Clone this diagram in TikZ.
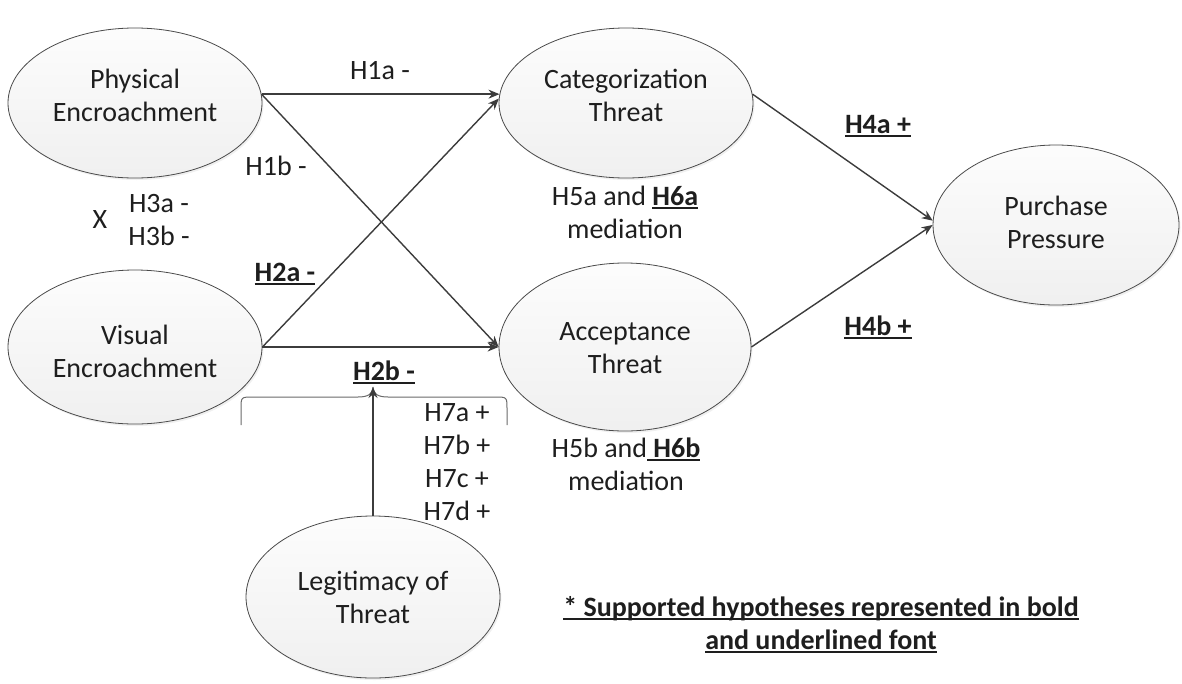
\documentclass[tikz,border=0pt]{standalone}
\usepackage{fontspec}
\setmainfont{Carlito}
\usetikzlibrary{shapes.geometric,arrows.meta,shadows}
\definecolor{ink}{HTML}{1E1E1E}
\definecolor{wire}{HTML}{3C3C3C}
\definecolor{rim}{HTML}{4A4A4A}
\definecolor{bracecol}{HTML}{6A6A6A}
% bold text with a heavy underline
\newcommand{\ulbf}[1]{\setbox0\hbox{#1}\rlap{\rule[-4pt]{\wd0}{2.2pt}}\box0}
\begin{document}
\begin{tikzpicture}[x=1pt,y=-1pt,
  every node/.style={font=\fontsize{28}{33}\selectfont, text=ink},
  bubble/.style={ellipse, draw=rim, line width=0.8pt, align=center,
    top color=gray!2, bottom color=gray!12, inner sep=0pt, text height=60pt,
    drop shadow={opacity=0.12, shadow xshift=1.5pt, shadow yshift=-2pt}},
  lbl/.style={anchor=base, inner sep=0pt},
  link/.style={draw=wire, line width=1.4pt, -{Stealth[length=11pt,width=9pt]}}]
\useasboundingbox (0,0) rectangle (1182,683);

% constructs
\node[bubble, minimum width=254pt, minimum height=150pt, text depth=24pt] (phys) at (135,103) {Physical\\Encroachment};
\node[bubble, minimum width=254pt, minimum height=154pt, text depth=0pt] (vis) at (135,347) {Visual\\Encroachment};
\node[bubble, minimum width=254pt, minimum height=150pt, text depth=24pt] (cat) at (626,103) {Categorization\\Threat};
\node[bubble, minimum width=252pt, minimum height=168pt, text depth=8pt] (acc) at (625,347) {Acceptance\\Threat};
\node[bubble, minimum width=246pt, minimum height=160pt, text depth=14pt] (pur) at (1056,225) {Purchase\\Pressure};
\node[bubble, minimum width=254pt, minimum height=162pt, text depth=8pt] (leg) at (373,597) {Legitimacy of\\Threat};

% paths
\draw[link] (phys.4) -- (cat.176);
\draw[link] (phys.4) -- (acc.west);
\draw[link] (vis.east) -- (cat.178);
\draw[link] (vis.east) -- (acc.west);
\draw[link] (cat.4) -- (pur.178);
\draw[link] (acc.east) -- (pur.west);

% moderation brace
\coordinate (tip) at (373,387);
\draw[draw=bracecol, line width=1pt]
  (241,425) -- (241,409) .. controls (241,397) .. (253,397) -- (358,397)
  .. controls (368,397) and (373,394) .. (tip)
  .. controls (373,394) and (378,397) .. (388,397) -- (495,397)
  .. controls (507,397) .. (507,409) -- (507,425);
\draw[link, line width=1.1pt] (leg.north) -- (tip);

% hypothesis labels
\node[lbl] (h1a) at (380,79) {H1a -};
\node[lbl] (h1b) at (276,175) {H1b -};
\node[lbl] (xx) at (100,228) {X};
\node[lbl] (h3a) at (159,212) {H3a -};
\node[lbl] (h3b) at (159,245) {H3b -};
\node[lbl] (h2a) at (285,281) {\ulbf{\textbf{H2a -}}};
\node[lbl] (h2b) at (384,380) {\ulbf{\textbf{H2b -}}};
\node[lbl] (h56a) at (625,205) {H5a and \ulbf{\textbf{H6a}}};
\node[lbl] (med1) at (625,238) {mediation};
\node[lbl] (h56b) at (626,457) {H5b and\ulbf{ \textbf{H6b}}};
\node[lbl] (med2) at (626,490) {mediation};
\node[lbl] (h4a) at (878,133) {\ulbf{\textbf{H4a +}}};
\node[lbl] (h4b) at (878,335) {\ulbf{\textbf{H4b +}}};
\node[lbl] (h7a) at (457,421) {H7a +};
\node[lbl] (h7b) at (457,454) {H7b +};
\node[lbl] (h7c) at (457,487) {H7c +};
\node[lbl] (h7d) at (457,520) {H7d +};

% note
\node[lbl] (note1) at (821,616) {\ulbf{\textbf{* Supported hypotheses represented in bold}}};
\node[lbl] (note2) at (821,649) {\ulbf{\textbf{and underlined font}}};
\end{tikzpicture}
\end{document}
